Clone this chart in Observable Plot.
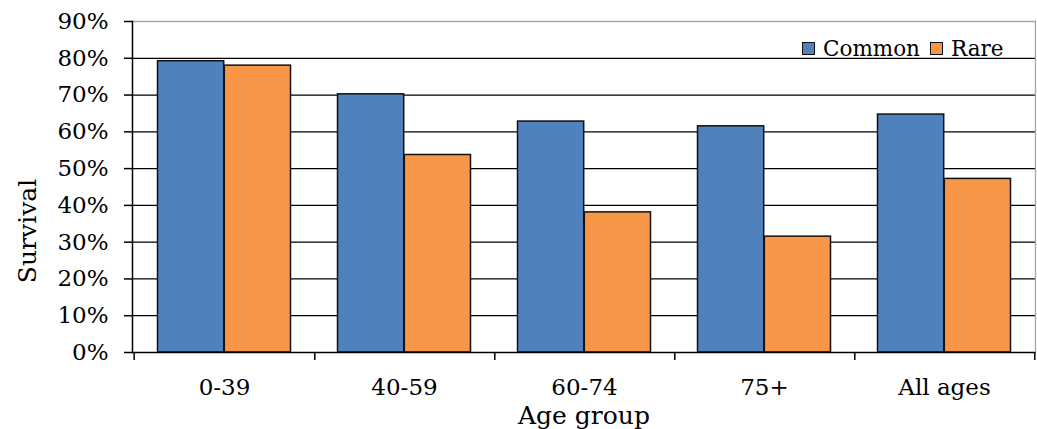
<!DOCTYPE html>
<html>
<head>
<meta charset="utf-8">
<script src="https://cdn.jsdelivr.net/npm/d3@7"></script>
<script src="https://cdn.jsdelivr.net/npm/@observablehq/plot@0.6"></script>
<style>
  html, body { margin: 0; padding: 0; background: #fff; }
  #wrap { position: relative; width: 1037px; height: 429px; }
  #wrap svg { display: block; }
  [aria-label="x-axis label"] text { font-size: 25px; }
  #legend { position: absolute; left: 802px; top: 36px; display: flex; align-items: center;
            font-family: "DejaVu Serif", serif; font-size: 21.5px; color: #000; }
  #legend .item { display: flex; align-items: center; margin-right: 10px; }
  #legend .sw { width: 11px; height: 11px; border: 1.5px solid #111; margin-right: 8px; }
</style>
</head>
<body>
<div id="wrap"></div>
<script>
const categories = ["0-39", "40-59", "60-74", "75+", "All ages"];
const series = ["Common", "Rare"];
const common = [0.792, 0.702, 0.628, 0.615, 0.647];
const rare = [0.780, 0.537, 0.381, 0.315, 0.472];
const yTicks = [0, 0.1, 0.2, 0.3, 0.4, 0.5, 0.6, 0.7, 0.8, 0.9];
const gridTicks = [0.1, 0.2, 0.3, 0.4, 0.5, 0.6, 0.7, 0.8];
const yTitle = ["Survival"];
const colors = {Common: "#4F81BD", Rare: "#F79646"};

const data = [];
categories.forEach((g, i) => {
  data.push({group: g, series: "Common", value: common[i]});
  data.push({group: g, series: "Rare", value: rare[i]});
});

const W = 1037, H = 429, ML = 132, MR = 2, MT = 21, MB = 77;
const bw = (W - ML - MR) / categories.length;
const outer = 23.5;

const chart = Plot.plot({
  width: W, height: H,
  marginLeft: ML, marginRight: MR, marginTop: MT, marginBottom: MB,
  style: {fontFamily: "DejaVu Serif, serif", fontSize: "23px", color: "#000", background: "#fff"},
  x: {type: "band", domain: categories, padding: 0},
  y: {domain: [0, 0.9]},
  marks: [
    Plot.ruleY(gridTicks, {stroke: "#000", strokeWidth: 1.3}),
    Plot.frame({anchor: "top", stroke: "#a6a6a6", strokeWidth: 1.3}),
    Plot.frame({anchor: "right", stroke: "#a6a6a6", strokeWidth: 1.3}),
    Plot.barY(data.filter(d => d.series === "Common"), {
      x: "group", y: "value", fill: colors.Common, stroke: "#111", strokeWidth: 1.5,
      insetLeft: outer, insetRight: bw / 2
    }),
    Plot.barY(data.filter(d => d.series === "Rare"), {
      x: "group", y: "value", fill: colors.Rare, stroke: "#111", strokeWidth: 1.5,
      insetLeft: bw / 2, insetRight: outer
    }),
    Plot.ruleY([0], {stroke: "#000", strokeWidth: 1.5}),
    Plot.frame({anchor: "left", stroke: "#000", strokeWidth: 1.5}),
    Plot.axisY({
      ticks: yTicks, tickFormat: d3.format(".0%"), tickSize: 8, tickPadding: 16,
      strokeWidth: 1.5, label: null
    }),
    Plot.text(yTitle, {
      text: d => d, frameAnchor: "left", rotate: -90, lineAnchor: "middle", textAnchor: "middle",
      dx: -105, dy: 44, fontSize: 25, fill: "#000"
    }),
    Plot.axisX({
      tickSize: 0, tickPadding: 26, label: "Age group", labelAnchor: "center",
      labelOffset: 71, labelArrow: "none"
    }),
    Plot.axisX({tickSize: 8, strokeWidth: 1.5, tickFormat: () => "", dx: bw / 2, label: null}),
    Plot.axisX({ticks: [categories[0]], tickSize: 8, strokeWidth: 1.5, tickFormat: () => "", dx: -bw / 2, label: null})
  ]
});

const wrap = document.getElementById("wrap");
wrap.appendChild(chart);

const legend = document.createElement("div");
legend.id = "legend";
series.forEach(s => {
  const item = document.createElement("div");
  item.className = "item";
  const sw = document.createElement("span");
  sw.className = "sw";
  sw.style.background = colors[s];
  const t = document.createElement("span");
  t.textContent = s;
  item.appendChild(sw);
  item.appendChild(t);
  legend.appendChild(item);
});
wrap.appendChild(legend);
</script>
</body>
</html>
